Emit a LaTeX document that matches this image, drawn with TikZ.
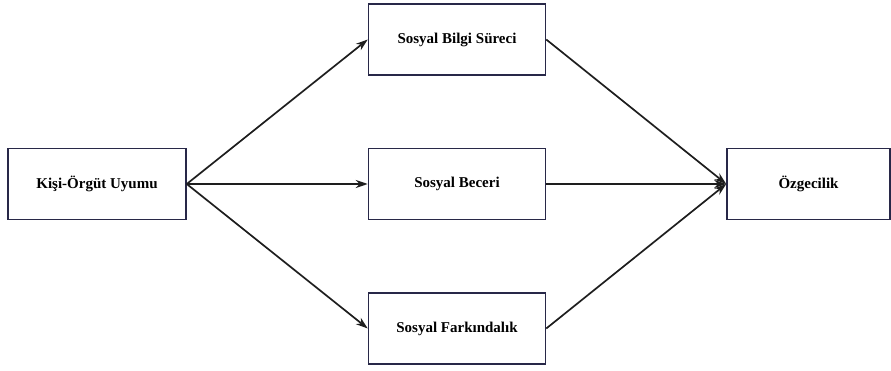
\documentclass[tikz,border=0pt]{standalone}
\usepackage{fontspec}
\setmainfont{Liberation Serif}
\usepackage{xcolor}
\usetikzlibrary{arrows.meta,positioning}
\definecolor{boxline}{RGB}{40,40,72}
\definecolor{arrink}{RGB}{30,30,30}

\begin{document}
\begin{tikzpicture}[
  font=\fontsize{15}{18}\selectfont\bfseries,
  box/.style={draw=boxline, line width=1.5pt, fill=white, align=center,
              minimum height=71pt, inner sep=0pt},
  arr/.style={-{Stealth[length=12pt,width=8pt]}, line width=1.7pt, arrink}
]
\useasboundingbox (0,0) rectangle (891pt,-371pt);
\node[box, minimum width=178pt] (kou) at (97pt,-184pt) {Kişi-Örgüt Uyumu};
\node[box, minimum width=177pt, right=181pt of kou] (beceri) {Sosyal Beceri};
\node[box, minimum width=177pt, above=72pt of beceri] (bilgi) {Sosyal Bilgi Süreci};
\node[box, minimum width=177pt, below=72pt of beceri] (fark) {Sosyal Farkındalık};
\node[box, minimum width=163pt, right=180pt of beceri] (ozg) {Özgecilik};
\draw[arr] (kou.east) -- (bilgi.west);
\draw[arr] (kou.east) -- (beceri.west);
\draw[arr] (kou.east) -- (fark.west);
\draw[arr] (bilgi.east) -- (ozg.west);
\draw[arr] (beceri.east) -- (ozg.west);
\draw[arr] (fark.east) -- (ozg.west);
\end{tikzpicture}
\end{document}
